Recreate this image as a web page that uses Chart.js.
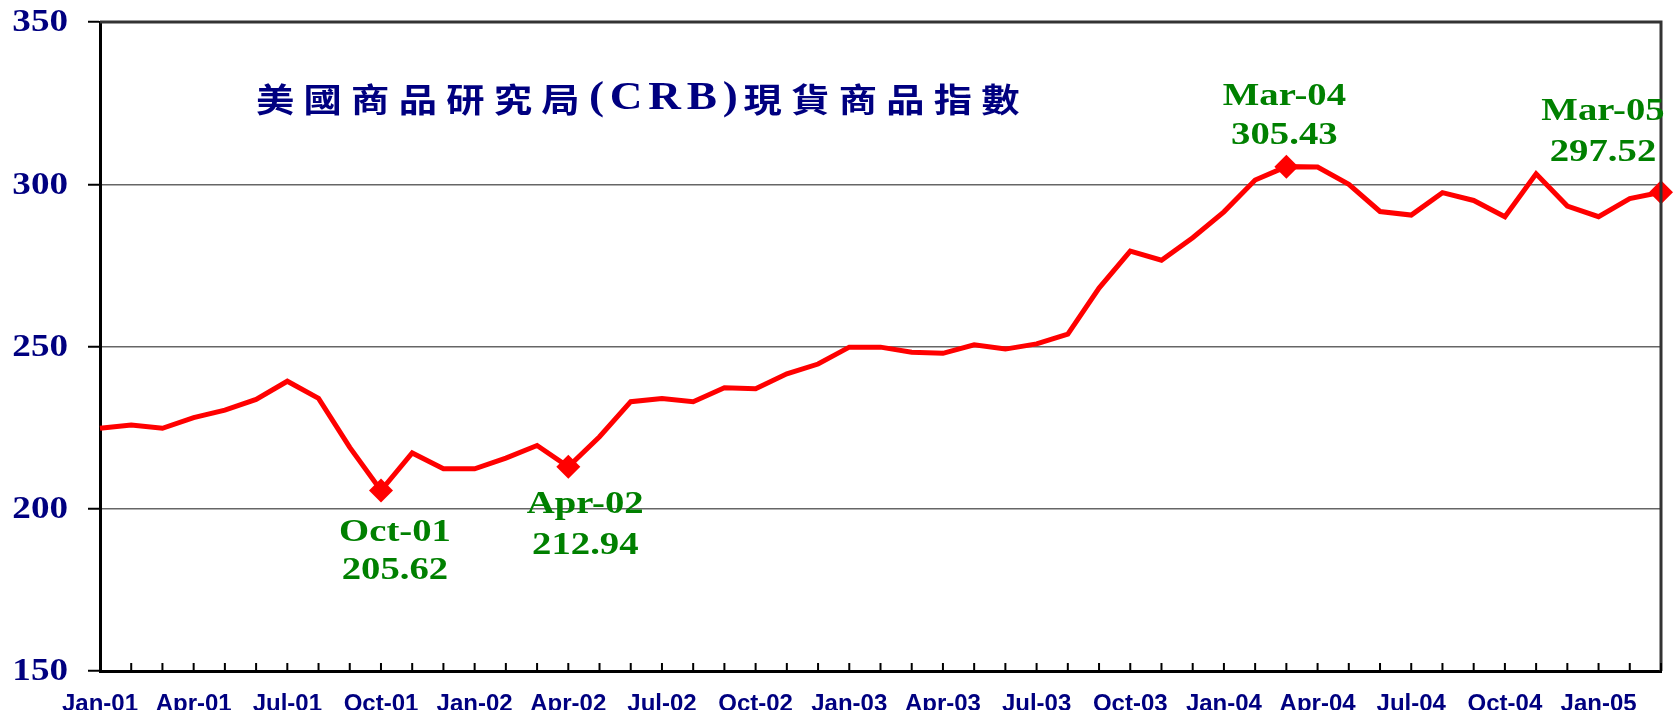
<!DOCTYPE html>
<html>
<head>
<meta charset="utf-8">
<script src="https://cdn.jsdelivr.net/npm/chart.js@4.4.0/dist/chart.umd.min.js"></script>
<style>
  body { margin: 0; background: #fff; }
  canvas { display: block; }
</style>
</head>
<body>
<canvas id="crb" width="1675" height="710"></canvas>
<script>
const months = [
  'Jan-01', 'Feb-01', 'Mar-01', 'Apr-01', 'May-01', 'Jun-01', 'Jul-01', 'Aug-01', 'Sep-01', 'Oct-01', 'Nov-01', 'Dec-01',
  'Jan-02', 'Feb-02', 'Mar-02', 'Apr-02', 'May-02', 'Jun-02', 'Jul-02', 'Aug-02', 'Sep-02', 'Oct-02', 'Nov-02', 'Dec-02',
  'Jan-03', 'Feb-03', 'Mar-03', 'Apr-03', 'May-03', 'Jun-03', 'Jul-03', 'Aug-03', 'Sep-03', 'Oct-03', 'Nov-03', 'Dec-03',
  'Jan-04', 'Feb-04', 'Mar-04', 'Apr-04', 'May-04', 'Jun-04', 'Jul-04', 'Aug-04', 'Sep-04', 'Oct-04', 'Nov-04', 'Dec-04',
  'Jan-05', 'Feb-05', 'Mar-05'
];

const crbIndex = [
  224.8, 225.8, 224.8, 228.1, 230.4, 233.7, 239.3, 234.0, 218.9, 205.62, 217.2, 212.3,
  212.3, 215.6, 219.5, 212.94, 222.2, 233.0, 234.0, 233.0, 237.3, 237.0, 241.6, 244.6,
  249.8, 249.8, 248.2, 247.9, 250.5, 249.2, 250.8, 253.8, 268.0, 279.4, 276.6, 283.5,
  291.5, 301.3, 305.43, 305.3, 300.0, 291.6, 290.5, 297.4, 295.0, 290.0, 303.2, 293.3,
  290.0, 295.6, 297.52
];

// months that get a diamond marker and a label
const markedMonths = ['Oct-01', 'Apr-02', 'Mar-04', 'Mar-05'];

const yTicks = [150, 200, 250, 300, 350];

const titleParts = ['美國商品研究局', '(CRB)', '現貨商品指數'];

const navy = '#000080';
const green = '#008000';
const cjkFont = '"Noto Sans CJK TC", "Noto Sans CJK SC", sans-serif';
const serifFont = '"Liberation Serif", "Times New Roman", serif';
const stretch = 1.16; // the original picture is a bit wider than tall

const isMarked = ctx => markedMonths.includes(months[ctx.dataIndex]);

// where each label sits relative to its point (px)
const labelPlace = {
  'Oct-01': { dx: 14, dy: 42, gap: 38 },
  'Apr-02': { dx: 17, dy: 38, gap: 41 },
  'Mar-04': { dx: -2, dy: -70, gap: 39 },
  'Mar-05': { dx: -58, dy: -81, gap: 41 }
};

function wideText(ctx, text, x, y, k = stretch) {
  ctx.save();
  ctx.translate(x, y);
  ctx.scale(k, 1);
  ctx.fillText(text, 0, 0);
  ctx.restore();
}

const extras = {
  id: 'extras',
  afterDatasetsDraw(chart) {
    const { ctx, chartArea: a, scales: { x, y } } = chart;
    ctx.save();

    // top and right frame
    ctx.strokeStyle = '#333';
    ctx.lineWidth = 3;
    ctx.beginPath();
    ctx.moveTo(a.left, a.top);
    ctx.lineTo(a.right, a.top);
    ctx.lineTo(a.right, a.bottom);
    ctx.stroke();

    // inner month ticks on the x axis
    ctx.strokeStyle = '#000';
    ctx.lineWidth = 2;
    ctx.beginPath();
    months.forEach((m, i) => {
      const px = x.getPixelForValue(i);
      ctx.moveTo(px, a.bottom);
      ctx.lineTo(px, a.bottom - 8);
    });
    ctx.stroke();

    // y tick labels
    ctx.fillStyle = navy;
    ctx.font = 'bold 32px ' + serifFont;
    ctx.textAlign = 'right';
    ctx.textBaseline = 'middle';
    yTicks.forEach(v => wideText(ctx, String(v), 68, y.getPixelForValue(v) + 1));

    // title
    ctx.textAlign = 'left';
    let tx = 256;
    titleParts.forEach((part, k) => {
      if (k === 1) {
        ctx.font = 'bold 39px ' + serifFont;
        ctx.letterSpacing = '5px';
      } else {
        ctx.font = 'bold 33px ' + cjkFont;
        ctx.letterSpacing = '8px';
      }
      wideText(ctx, part, tx, 99);
      tx += ctx.measureText(part).width * stretch;
    });
    ctx.letterSpacing = '0px';

    // point labels
    ctx.fillStyle = green;
    ctx.font = 'bold 32px ' + serifFont;
    ctx.textAlign = 'center';
    markedMonths.forEach(m => {
      const i = months.indexOf(m);
      const p = labelPlace[m];
      const px = x.getPixelForValue(i) + p.dx;
      const py = y.getPixelForValue(crbIndex[i]) + p.dy;
      wideText(ctx, m, px, py, 1.21);
      wideText(ctx, crbIndex[i].toFixed(2), px, py + p.gap, 1.21);
    });

    ctx.restore();
  }
};

const data = {
  labels: months,
  datasets: [{
    label: 'CRB',
    data: crbIndex,
    borderColor: '#ff0000',
    backgroundColor: '#ff0000',
    borderWidth: 5,
    tension: 0,
    pointStyle: 'rectRot',
    pointRadius: ctx => isMarked(ctx) ? 12 : 0,
    pointHoverRadius: ctx => isMarked(ctx) ? 12 : 0,
    pointBorderWidth: 0
  }]
};

const config = {
  type: 'line',
  data: data,
  options: {
    responsive: false,
    animation: false,
    devicePixelRatio: 1,
    layout: { padding: { top: 22, right: 14, left: 0, bottom: 0 } },
    plugins: {
      legend: { display: false },
      title: { display: false },
      tooltip: { enabled: false }
    },
    scales: {
      x: {
        offset: false,
        afterFit: s => { s.height = 39; s.paddingRight = 0; },
        grid: { drawOnChartArea: false, drawTicks: false },
        border: { color: '#000', width: 3 },
        ticks: {
          autoSkip: false,
          maxRotation: 0,
          padding: 19,
          color: navy,
          font: { family: '"Liberation Sans", Arial, sans-serif', size: 24, weight: 'bold' },
          callback: (v, i) => i % 3 === 0 ? months[i] : ''
        }
      },
      y: {
        min: 150,
        max: 350,
        afterFit: s => { s.width = 100; },
        afterBuildTicks: s => { s.ticks = yTicks.map(v => ({ value: v })); },
        grid: { color: '#666', lineWidth: 1.5, tickLength: 12, tickColor: '#000', tickWidth: 2 },
        border: { color: '#000', width: 3 },
        ticks: { display: false }
      }
    }
  },
  plugins: [extras]
};

const ctx = document.getElementById('crb');
new Chart(ctx, config);
</script>
</body>
</html>
